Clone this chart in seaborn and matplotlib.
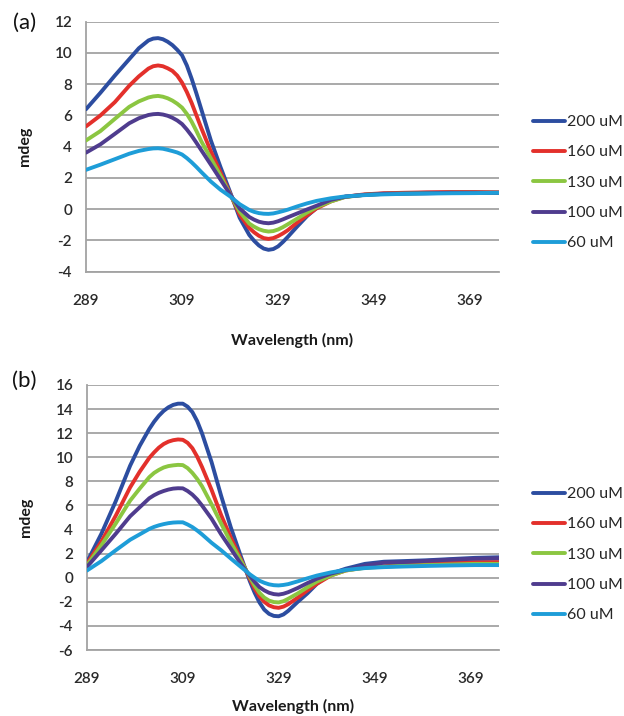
import matplotlib
matplotlib.use("Agg")
import matplotlib.pyplot as plt
import seaborn as sns
import pandas as pd

# ---------------- data ----------------
wavelength = [289, 292, 295, 298, 300, 302, 303, 304, 305, 306, 307, 308, 309, 310, 311,
              312, 313, 315, 317, 319, 321, 323, 324, 325, 326, 327, 328, 329, 330, 331,
              333, 335, 337, 340, 343, 347, 351, 355, 360, 365, 370, 375]

concentrations = ["200 uM", "160 uM", "130 uM", "100 uM", "60 uM"]

# panel (a)
a_200 = [6.4, 7.45, 8.55, 9.6, 10.3, 10.8, 10.92, 10.95, 10.88, 10.72, 10.5, 10.2, 9.85,
         9.2, 8.35, 7.4, 6.4, 4.4, 2.7, 1.1, -0.55, -1.65, -2.02, -2.32, -2.52, -2.6,
         -2.55, -2.38, -2.1, -1.78, -1.1, -0.45, 0.08, 0.6, 0.8, 0.92, 1.0, 1.02, 1.05,
         1.06, 1.05, 1.05]
a_160 = [5.3, 6.0, 6.85, 7.9, 8.5, 9.0, 9.15, 9.2, 9.15, 9.02, 8.85, 8.55, 8.1, 7.5, 6.8,
         6.0, 5.2, 3.7, 2.35, 1.0, -0.35, -1.2, -1.48, -1.7, -1.85, -1.9, -1.85, -1.72,
         -1.55, -1.35, -0.85, -0.4, 0.05, 0.5, 0.8, 0.95, 1.02, 1.05, 1.08, 1.1, 1.1, 1.08]
a_130 = [4.4, 5.0, 5.78, 6.55, 6.9, 7.15, 7.22, 7.25, 7.2, 7.1, 6.95, 6.75, 6.5, 6.1, 5.6,
         5.0, 4.35, 3.25, 2.15, 0.95, -0.15, -0.92, -1.12, -1.28, -1.38, -1.43, -1.4,
         -1.3, -1.15, -0.97, -0.6, -0.22, 0.12, 0.5, 0.78, 0.92, 0.98, 1.0, 1.03, 1.05,
         1.05, 1.05]
a_100 = [3.62, 4.15, 4.82, 5.5, 5.82, 6.03, 6.08, 6.1, 6.06, 5.98, 5.85, 5.68, 5.45, 5.1,
         4.7, 4.25, 3.78, 2.85, 1.9, 0.95, 0.05, -0.5, -0.67, -0.8, -0.87, -0.9, -0.86,
         -0.77, -0.65, -0.52, -0.27, -0.02, 0.22, 0.6, 0.8, 0.92, 0.98, 1.0, 1.02, 1.05,
         1.05, 1.05]
a_60 = [2.52, 2.85, 3.2, 3.55, 3.73, 3.85, 3.89, 3.9, 3.87, 3.8, 3.72, 3.63, 3.5, 3.27,
        3.0, 2.7, 2.38, 1.77, 1.25, 0.82, 0.32, -0.05, -0.17, -0.25, -0.29, -0.3, -0.27,
        -0.2, -0.12, -0.03, 0.18, 0.37, 0.53, 0.7, 0.82, 0.9, 0.95, 0.98, 1.0, 1.02,
        1.03, 1.05]

# panel (b)
b_200 = [1.3, 3.65, 6.35, 9.3, 10.95, 12.35, 12.95, 13.45, 13.85, 14.15, 14.35, 14.45,
         14.45, 14.2, 13.75, 13.0, 12.0, 9.6, 6.8, 4.2, 1.9, -0.3, -1.25, -2.05, -2.65,
         -3.0, -3.17, -3.2, -3.05, -2.75, -2.0, -1.3, -0.5, 0.35, 0.75, 1.15, 1.33, 1.38,
         1.45, 1.55, 1.65, 1.7]
b_160 = [1.17, 3.0, 5.15, 7.5, 8.8, 9.95, 10.4, 10.8, 11.1, 11.3, 11.42, 11.48, 11.45,
         11.2, 10.75, 10.05, 9.2, 7.3, 5.2, 3.35, 1.63, -0.1, -0.9, -1.55, -2.0, -2.3,
         -2.45, -2.5, -2.4, -2.2, -1.65, -1.05, -0.5, 0.2, 0.6, 0.85, 0.95, 1.05, 1.15,
         1.25, 1.3, 1.3]
b_130 = [1.03, 2.7, 4.5, 6.4, 7.4, 8.35, 8.7, 8.95, 9.15, 9.27, 9.33, 9.37, 9.35, 9.1,
         8.7, 8.2, 7.6, 6.1, 4.5, 2.95, 1.5, 0.05, -0.65, -1.25, -1.65, -1.9, -2.02,
         -2.05, -1.95, -1.75, -1.3, -0.8, -0.32, 0.2, 0.6, 0.82, 0.92, 1.0, 1.05, 1.1,
         1.15, 1.15]
b_100 = [0.9, 2.27, 3.65, 5.1, 5.85, 6.6, 6.85, 7.05, 7.2, 7.32, 7.4, 7.43, 7.42, 7.2,
         6.9, 6.5, 6.0, 4.9, 3.6, 2.42, 1.22, 0.15, -0.35, -0.78, -1.05, -1.25, -1.36,
         -1.4, -1.33, -1.2, -0.85, -0.45, -0.08, 0.35, 0.65, 1.0, 1.25, 1.3, 1.4, 1.5,
         1.58, 1.62]
b_60 = [0.6, 1.38, 2.28, 3.15, 3.6, 4.05, 4.22, 4.35, 4.45, 4.53, 4.58, 4.6, 4.6, 4.42,
        4.2, 3.92, 3.6, 2.9, 2.28, 1.6, 0.94, 0.28, 0.0, -0.25, -0.42, -0.55, -0.62,
        -0.64, -0.6, -0.53, -0.3, -0.05, 0.18, 0.45, 0.65, 0.8, 0.88, 0.93, 0.98, 1.02,
        1.05, 1.05]

x_ticks = [289, 309, 329, 349, 369]
a_yticks = list(range(-4, 13, 2))
b_yticks = list(range(-6, 17, 2))

colors = ["#2C4DA0", "#E3302B", "#8BC641", "#4F3C8E", "#1E9DD8"]

# ---------------- style ----------------
sns.set_style("white")
plt.rcParams["font.family"] = ["Lato", "DejaVu Sans"]
plt.rcParams["axes.unicode_minus"] = False
plt.rcParams["lines.solid_joinstyle"] = "round"
plt.rcParams["lines.solid_capstyle"] = "round"

W, H = 624, 716
fig = plt.figure(figsize=(W / 100, H / 100), dpi=100)


def axes_px(left, top, right, bottom):
    return fig.add_axes([left / W, 1 - bottom / H, (right - left) / W, (bottom - top) / H])


def long_df(series):
    rows = []
    for name, vals in zip(concentrations, series):
        for w, v in zip(wavelength, vals):
            rows.append({"Wavelength": w, "mdeg": v, "conc": name})
    return pd.DataFrame(rows)


def draw(ax, series, ylim, yticks, legend_top_px):
    df = long_df(series)
    sns.lineplot(data=df, x="Wavelength", y="mdeg", hue="conc", hue_order=concentrations,
                 palette=dict(zip(concentrations, colors)), linewidth=2.8, ax=ax,
                 legend=False, zorder=3)
    ax.set_xlim(289, 375)
    ax.set_ylim(*ylim)
    ax.set_xticks(x_ticks)
    ax.set_yticks(yticks)
    ax.yaxis.grid(True, color="#A3A3A3", linewidth=1.3)
    ax.xaxis.grid(False)
    ax.set_axisbelow(True)
    for s in ["top", "right"]:
        ax.spines[s].set_visible(False)
    for s in ["left", "bottom"]:
        ax.spines[s].set_color("#A3A3A3")
        ax.spines[s].set_linewidth(1.3)
    ax.tick_params(axis="both", length=0, labelsize=11, labelcolor="#2a2a2a")
    for lab in ax.get_xticklabels() + ax.get_yticklabels():
        lab.set_fontweight("semibold")
    ax.tick_params(axis="y", pad=10)
    ax.tick_params(axis="x", pad=16)
    ax.set_xlabel("Wavelength (nm)", fontsize=11.5, fontweight="bold", color="#1a1a1a")
    ax.set_ylabel("mdeg", fontsize=11.5, fontweight="bold", color="#1a1a1a")
    ax.yaxis.set_label_coords(-0.131, 0.5)
    handles = ax.get_lines()[:len(concentrations)]
    fig.legend(handles, concentrations, loc="upper left",
               bbox_to_anchor=(533 / W, 1 - legend_top_px / H),
               frameon=False, fontsize=11.5, handlelength=2.0, handletextpad=0.1,
               labelspacing=1.01, borderpad=0, borderaxespad=0)


ax_a = axes_px(86, 21.7, 499, 271.7)
draw(ax_a, [a_200, a_160, a_130, a_100, a_60], (-4, 12), a_yticks, 115)
ax_a.xaxis.set_label_coords(0.5, -0.245)

ax_b = axes_px(87, 385, 499, 650)
draw(ax_b, [b_200, b_160, b_130, b_100, b_60], (-6, 16), b_yticks, 487)
ax_b.xaxis.set_label_coords(0.5, -0.185)

fig.text(25 / W, 1 - 23 / H, "(a)", fontsize=16, ha="center", va="center", color="#111111")
fig.text(24 / W, 1 - 381 / H, "(b)", fontsize=16, ha="center", va="center", color="#111111")

fig.savefig("out.png", dpi=100, facecolor="white")
